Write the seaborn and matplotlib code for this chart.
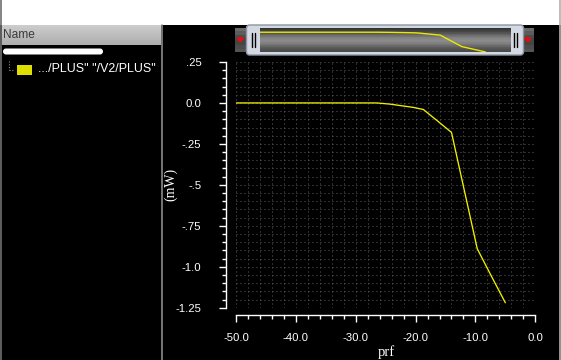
import numpy as np
import pandas as pd
import matplotlib
matplotlib.use("Agg")
import matplotlib.pyplot as plt
import seaborn as sns
from matplotlib.patches import Rectangle, FancyBboxPatch, Polygon
from matplotlib.lines import Line2D

# ---------------- data ----------------
prf = [-50.0, -40.0, -30.0, -26.5, -24.3, -20.4, -18.7, -16.5, -14.0, -9.7, -7.3, -5.0]
power_mw = [0.0, 0.0, 0.0, 0.0, -0.007, -0.027, -0.04, -0.105, -0.18, -0.89, -1.06, -1.22]
x_ticks = [-50.0, -40.0, -30.0, -20.0, -10.0, 0.0]
x_tick_labels = ["-50.0", "-40.0", "-30.0", "-20.0", "-10.0", "0.0"]
y_ticks = [0.25, 0.0, -0.25, -0.5, -0.75, -1.0, -1.25]
y_tick_labels = [".25", "0.0", "-.25", "-.5", "-.75", "-1.0", "-1.25"]
legend_label = '.../PLUS" "/V2/PLUS"'
x_label = "prf"
y_label = "(mW)"
header_label = "Name"

df = pd.DataFrame({"prf": prf, "power": power_mw})

sns.set_style("dark", rc={"axes.facecolor": "black", "figure.facecolor": "black",
                          "xtick.bottom": True, "ytick.left": True})
plt.rcParams["font.family"] = ["Liberation Sans", "DejaVu Sans"]

W, H = 561, 360
fig = plt.figure(figsize=(W / 100, H / 100), dpi=100)
fig.patch.set_facecolor("black")


def fx(x):
    return x / W


def fy(y):
    return 1 - y / H


def rect_px(x0, y0, x1, y1, **kw):
    r = Rectangle((fx(x0), fy(y1)), (x1 - x0) / W, (y1 - y0) / H,
                  transform=fig.transFigure, **kw)
    fig.add_artist(r)
    return r


def rbox_px(x0, y0, x1, y1, pad, **kw):
    r = FancyBboxPatch((fx(x0), fy(y1)), (x1 - x0) / W, (y1 - y0) / H,
                       boxstyle=f"round,pad=0,rounding_size={pad / W}",
                       transform=fig.transFigure, mutation_aspect=W / H, **kw)
    fig.add_artist(r)
    return r


def line_px(xs, ys, **kw):
    l = Line2D([fx(x) for x in xs], [fy(y) for y in ys], transform=fig.transFigure, **kw)
    fig.add_artist(l)
    return l


# ---------------- window chrome ----------------
rect_px(0, 0, W, 25, facecolor="white", edgecolor="none", zorder=1)
line_px([0.5, 0.5], [0, H], color="#707070", lw=1.2, zorder=2)
line_px([W - 1.5, W - 1.5], [0, H], color="#b0b0b0", lw=1.2, zorder=2)

# header "Name"
grad = np.linspace(0.80, 0.68, 20).reshape(-1, 1)
hax = fig.add_axes([fx(2), fy(45), 159 / W, 20 / H], zorder=2)
hax.imshow(grad, cmap="gray", vmin=0, vmax=1, aspect="auto", extent=[0, 1, 0, 1])
hax.set_axis_off()
fig.text(fx(3.5), fy(35.5), header_label, color="#3a3a3a", fontsize=8.6,
         ha="left", va="center", zorder=3)
line_px([161.5, 161.5], [25, H], color="#8a8a8a", lw=1.2, zorder=2)

# redacted bar
rbox_px(3, 48.5, 103, 54.5, 3, facecolor="white", edgecolor="none", zorder=2)

# legend entry
line_px([8.5, 8.5], [61, 70], color="#8a8a8a", lw=0.8, ls=(0, (1, 1.5)), zorder=2)
line_px([8.5, 13.5], [70, 70], color="#8a8a8a", lw=0.8, ls=(0, (1, 1.5)), zorder=2)
rect_px(17, 64.5, 32, 74.5, facecolor="#dede00", edgecolor="none", zorder=2)
fig.text(fx(38), fy(69.5), legend_label, color="white", fontsize=8.9,
         ha="left", va="center", zorder=3)

# ---------------- scroll bar ----------------
for x0, x1 in [(235, 249), (520, 533.5)]:
    cax = fig.add_axes([fx(x0), fy(51.8), (x1 - x0) / W, 23.5 / H], zorder=2)
    cgrad = np.array([0.42, 0.36, 0.30, 0.27, 0.27, 0.30, 0.33]).reshape(-1, 1)
    cax.imshow(cgrad, cmap="gray", vmin=0, vmax=1, aspect="auto", extent=[0, 1, 0, 1])
    cax.set_axis_off()
fig.add_artist(Polygon([(fx(237), fy(39.3)), (fx(241), fy(36.8)), (fx(241), fy(41.8))],
                       closed=True, transform=fig.transFigure, color="#e01010", zorder=4))
rect_px(240.5, 38.3, 244, 40.3, facecolor="#e01010", edgecolor="none", zorder=4)
fig.add_artist(Polygon([(fx(531), fy(39.3)), (fx(527), fy(36.8)), (fx(527), fy(41.8))],
                       closed=True, transform=fig.transFigure, color="#e01010", zorder=4))
rect_px(524, 38.3, 527.5, 40.3, facecolor="#e01010", edgecolor="none", zorder=4)

rbox_px(246.5, 25, 523.5, 55, 3, facecolor="#d4d8e0", edgecolor="#8c94a4", lw=1.0, zorder=3)
for gx in [251.8, 254.5, 514.2, 516.9]:
    line_px([gx, gx], [32.5, 47], color="black", lw=1.0, zorder=6)

mini = fig.add_axes([fx(259.5), fy(52.4), 251 / W, 24.2 / H], zorder=5)
mgrad = np.array([0.20, 0.26, 0.34, 0.44, 0.52, 0.55, 0.50, 0.42, 0.34, 0.30]).reshape(-1, 1)
mini.imshow(mgrad, cmap="gray", vmin=0, vmax=1, aspect="auto",
            extent=[-50, 0, -1.25, 0.25], zorder=0)
sns.lineplot(data=df, x="prf", y="power", ax=mini, color="#e8e800", lw=1.0, zorder=2)
mini.set_xlim(-50, 0)
mini.set_ylim(-1.25, 0.25)
mini.set_axis_off()

# ---------------- main plot ----------------
ax = fig.add_axes([fx(236), fy(307.7), (535.3 - 236) / W, (307.7 - 62) / H], zorder=1)
ax.set_facecolor("black")
sns.lineplot(data=df, x="prf", y="power", ax=ax, color="#f0f000", lw=0.95, zorder=3)
ax.set_xlim(-50, 0)
ax.set_ylim(-1.25, 0.25)

ax.set_xticks(x_ticks)
ax.set_xticklabels(x_tick_labels, family=["DejaVu Sans"])
ax.set_xticks(np.arange(-50, 0.01, 2), minor=True)
ax.set_yticks(y_ticks)
ax.set_yticklabels(y_tick_labels, family=["DejaVu Sans"])
ax.set_yticks(np.arange(-1.25, 0.2501, 0.05), minor=True)

ax.grid(which="both", color="#5c5c5c", linestyle=(0, (1, 3)), linewidth=0.72, zorder=1)

for s in ["top", "right"]:
    ax.spines[s].set_visible(False)
ax.spines["left"].set_position(("outward", 7.2))
ax.spines["bottom"].set_position(("outward", 5.2))
for s in ["left", "bottom"]:
    ax.spines[s].set_color("white")
    ax.spines[s].set_linewidth(1.0)

ax.tick_params(axis="both", which="both", bottom=True, left=True, top=False, right=False)
ax.tick_params(axis="both", which="major", direction="out", color="white", width=1.0,
               length=4.7, labelcolor="white", labelsize=8.2)
ax.tick_params(axis="both", which="minor", direction="out", color="white", width=1.0,
               length=3.0)
ax.tick_params(axis="y", which="major", pad=13)
ax.tick_params(axis="x", which="major", pad=8)

ax.set_xlabel(x_label, color="white", fontsize=10.5, family=["Liberation Serif", "DejaVu Serif"],
              va="center")
ax.xaxis.set_label_coords(0.5035, -0.18)
ax.set_ylabel(y_label, color="white", fontsize=10, family=["Liberation Serif", "DejaVu Serif"],
              va="center")
ax.yaxis.set_label_coords(-0.217, 0.5)

fig.savefig("out.png", dpi=100, facecolor="black")
